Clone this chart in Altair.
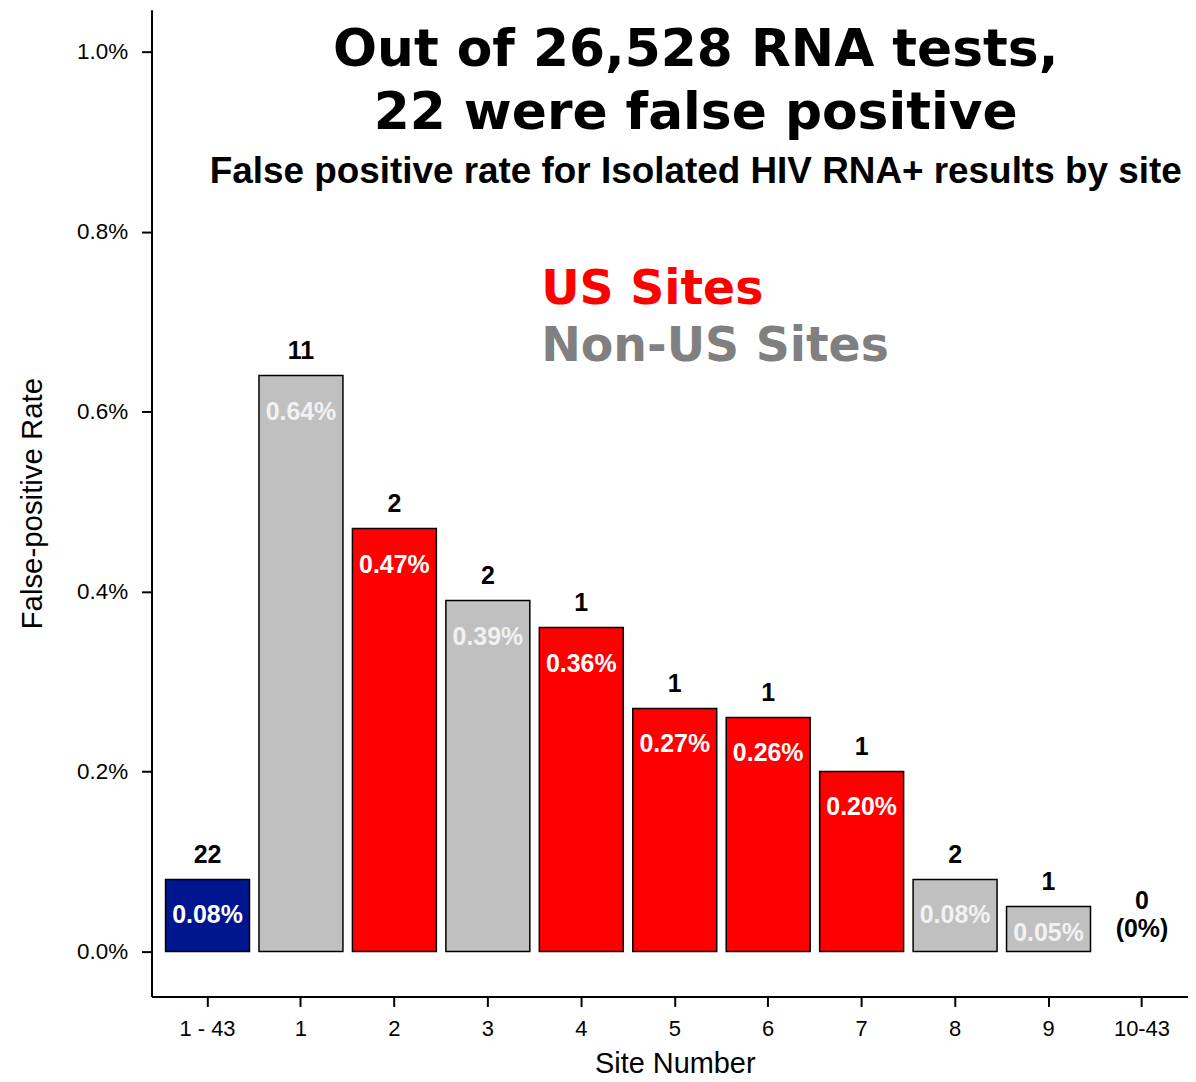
import altair as alt
import pandas as pd

sites = ["1 - 43", "1", "2", "3", "4", "5", "6", "7", "8", "9", "10-43"]
rates = [0.08, 0.64, 0.47, 0.39, 0.36, 0.27, 0.26, 0.20, 0.08, 0.05, 0.0]
counts = ["22", "11", "2", "2", "1", "1", "1", "1", "2", "1", "0"]
pct_labels = ["0.08%", "0.64%", "0.47%", "0.39%", "0.36%", "0.27%", "0.26%", "0.20%", "0.08%", "0.05%", "(0%)"]
groups = ["All", "Non-US", "US", "Non-US", "US", "US", "US", "US", "Non-US", "Non-US", "None"]
y_ticks = [0.0, 0.2, 0.4, 0.6, 0.8, 1.0]

df = pd.DataFrame({"site": sites, "rate": rates, "count": counts,
                   "pct": pct_labels, "group": groups})

FONT = "Liberation Sans"
HEAVY = "DejaVu Sans"

xenc = alt.X("site:N", sort=sites,
             scale=alt.Scale(domain=sites, range=[0, 1050], paddingInner=0.1016, paddingOuter=0.15),
             axis=alt.Axis(title="Site Number", labelAngle=0, labelFontSize=22, labelFont=FONT,
                           labelColor="black", labelPadding=12, tickSize=10, tickWidth=2,
                           tickColor="black", domainColor="black", domainWidth=2,
                           titleFont=FONT, titleFontSize=29, titleFontWeight="normal",
                           titleColor="black", titleY=82, titleBaseline="bottom"))
yscale = alt.Scale(domain=[-0.05, 1.0465], nice=False, zero=False)
yenc = alt.Y("rate:Q", scale=yscale,
             axis=alt.Axis(title="False-positive Rate", values=y_ticks,
                           labelExpr="format(datum.value, '.1f') + '%'",
                           labelFontSize=22.5, labelFont=FONT, labelColor="black", labelPadding=14,
                           tickSize=10, tickWidth=2, tickColor="black", domainColor="black",
                           domainWidth=2, grid=False, titleFont=FONT, titleFontSize=29.5,
                           titleFontWeight="normal", titleColor="black",
                           titleX=-119, titleY=495, titleAngle=270, titleBaseline="middle"))

base = alt.Chart(df)
color = alt.Color("group:N", scale=alt.Scale(domain=["All", "Non-US", "US"],
                                              range=["#00168E", "#C0C0C0", "#FF0000"]), legend=None)

bars = base.transform_filter("datum.rate > 0").mark_bar(stroke="black", strokeWidth=1.5).encode(
    x=xenc, y=yenc, y2=alt.datum(0), color=color)

count_text = base.transform_filter("datum.rate > 0").mark_text(
    font=FONT, fontSize=25, fontWeight="bold", color="black", dy=-25, baseline="middle").encode(
    x=alt.X("site:N", sort=sites), y=alt.Y("rate:Q"), text="count:N")

pct_text = base.transform_filter("datum.rate > 0").transform_calculate(
    lpos="max(datum.rate - 0.04, 0.021)").mark_text(
    font=FONT, fontSize=25, fontWeight="bold", baseline="middle").encode(
    x=alt.X("site:N", sort=sites), y=alt.Y("lpos:Q"), text="pct:N",
    color=alt.Color("group:N", scale=alt.Scale(domain=["All", "Non-US", "US"],
                                               range=["#FFFFFF", "#F2F2F2", "#FFFFFF"]), legend=None))

zero_count = base.transform_filter("datum.rate == 0").mark_text(
    font=FONT, fontSize=25, fontWeight="bold", color="black", dy=-51, baseline="middle").encode(
    x=alt.X("site:N", sort=sites), y=alt.Y("rate:Q"), text="count:N")
zero_pct = base.transform_filter("datum.rate == 0").mark_text(
    font=FONT, fontSize=25, fontWeight="bold", color="black", dy=-23, baseline="middle").encode(
    x=alt.X("site:N", sort=sites), y=alt.Y("rate:Q"), text="pct:N")

title_df = pd.DataFrame({"t": ["Out of 26,528 RNA tests,", "22 were false positive"], "py": [40, 104]})
title = alt.Chart(title_df).mark_text(font=HEAVY, fontSize=52, fontWeight="bold", color="black",
                                      baseline="middle", align="center").encode(
    x=alt.value(546), y=alt.Y("py:Q", scale=None), text="t:N")

sub = alt.Chart(pd.DataFrame({"t": ["False positive rate for Isolated HIV RNA+ results by site"]})).mark_text(
    font=FONT, fontSize=37, fontWeight="bold", color="black", baseline="middle", align="center").encode(
    x=alt.value(546), y=alt.value(163), text="t:N")

leg_df = pd.DataFrame({"t": ["US Sites", "Non-US Sites"], "py": [281, 338], "c": ["US", "Non-US"]})
legend_txt = alt.Chart(leg_df).mark_text(font=HEAVY, fontSize=47.5, fontWeight="bold",
                                         baseline="middle", align="left").encode(
    x=alt.value(391), y=alt.Y("py:Q", scale=None), text="t:N",
    color=alt.Color("c:N", scale=alt.Scale(domain=["US", "Non-US"], range=["#FF0000", "#808080"]),
                    legend=None))

chart = alt.layer(bars, count_text, pct_text, zero_count, zero_pct, title, sub, legend_txt).resolve_scale(
    color="independent").properties(
    width=1040, height=990,
    autosize=alt.AutoSizeParams(type="none"),
    padding={"left": 144, "top": 0, "right": 0, "bottom": 84},
).configure_view(stroke=None).configure_axis(grid=False)

chart.save("out.html", embed_options={"renderer": "svg", "actions": False})
